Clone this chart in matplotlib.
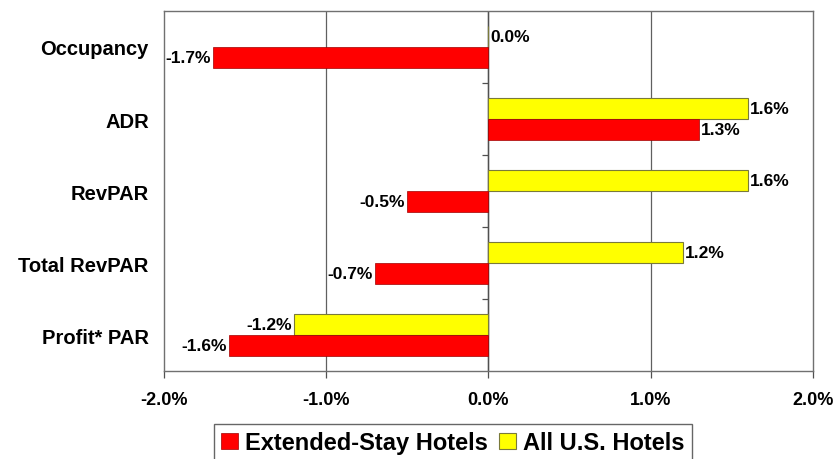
import numpy as np
import matplotlib.pyplot as plt

plt.rcParams['font.family'] = ['Liberation Sans', 'DejaVu Sans']
plt.rcParams['font.weight'] = 'bold'

categories = ["Occupancy", "ADR", "RevPAR", "Total RevPAR", "Profit* PAR"]
extended_stay = [-1.7, 1.3, -0.5, -0.7, -1.6]
all_us = [0.0, 1.6, 1.6, 1.2, -1.2]
xticks = [-2, -1, 0, 1, 2]

fig = plt.figure(figsize=(8.37, 4.60), dpi=100)
ax = fig.add_axes([0.196, 0.191, 0.775, 0.783])

y = np.arange(len(categories))
h = 0.29

# yellow sits above red in each group
b_all = ax.barh(y - h / 2, all_us, height=h, color="#FFFF00",
                edgecolor="#7a7a3a", linewidth=0.8, label="All U.S. Hotels", zorder=3)
b_ext = ax.barh(y + h / 2, extended_stay, height=h, color="#FF0000",
                edgecolor="#a00000", linewidth=0.5, label="Extended-Stay Hotels", zorder=3)

for bars, vals in ((b_all, all_us), (b_ext, extended_stay)):
    for bar, v in zip(bars, vals):
        cy = bar.get_y() + bar.get_height() / 2
        if v < 0:
            ax.annotate(f"{v:.1f}%", (v, cy), xytext=(-1.5, 0), textcoords="offset points",
                        ha="right", va="center", fontsize=12.5, fontweight="bold", zorder=4)
        else:
            ax.annotate(f"{v:.1f}%", (v, cy), xytext=(1.5, 0), textcoords="offset points",
                        ha="left", va="center", fontsize=12.5, fontweight="bold", zorder=4)

ax.set_xlim(-2, 2)
ax.set_ylim(len(categories) - 0.5, -0.5)

# gridlines and zero axis
for xv in xticks[1:-1]:
    ax.axvline(xv, color="#606060", linewidth=0.9, zorder=1)
ax.axvline(0, color="#505050", linewidth=1.0, zorder=2)
bounds = y[:-1] + 0.5
ax.plot(np.zeros_like(bounds), bounds, linestyle="none", marker=0,
        markersize=4, color="#505050", markeredgewidth=0.9, clip_on=False, zorder=2)

ax.set_xticks(xticks)
ax.set_xticklabels([f"{v:.1f}%" for v in xticks], fontsize=13, fontweight="bold")
ax.tick_params(axis="x", direction="out", length=5, width=0.9, color="#505050", pad=9)
ax.set_yticks(y)
ax.set_yticklabels(categories, fontsize=14.5, fontweight="bold")
ax.tick_params(axis="y", length=0, pad=11)

for s in ax.spines.values():
    s.set_color("#707070")
    s.set_linewidth(1.0)

handles = [b_ext, b_all]
leg = fig.legend(handles, [hh.get_label() for hh in handles], loc="upper center",
                 bbox_to_anchor=(0.541, 0.076), ncol=2,
                 prop={"weight": "bold", "size": 17}, frameon=True, fancybox=False,
                 edgecolor="#404040", handlelength=0.7, handleheight=0.7,
                 handletextpad=0.3, columnspacing=0.5, borderpad=0.3, borderaxespad=0)
leg.get_frame().set_linewidth(1.0)

fig.savefig("out.png", dpi=100)
